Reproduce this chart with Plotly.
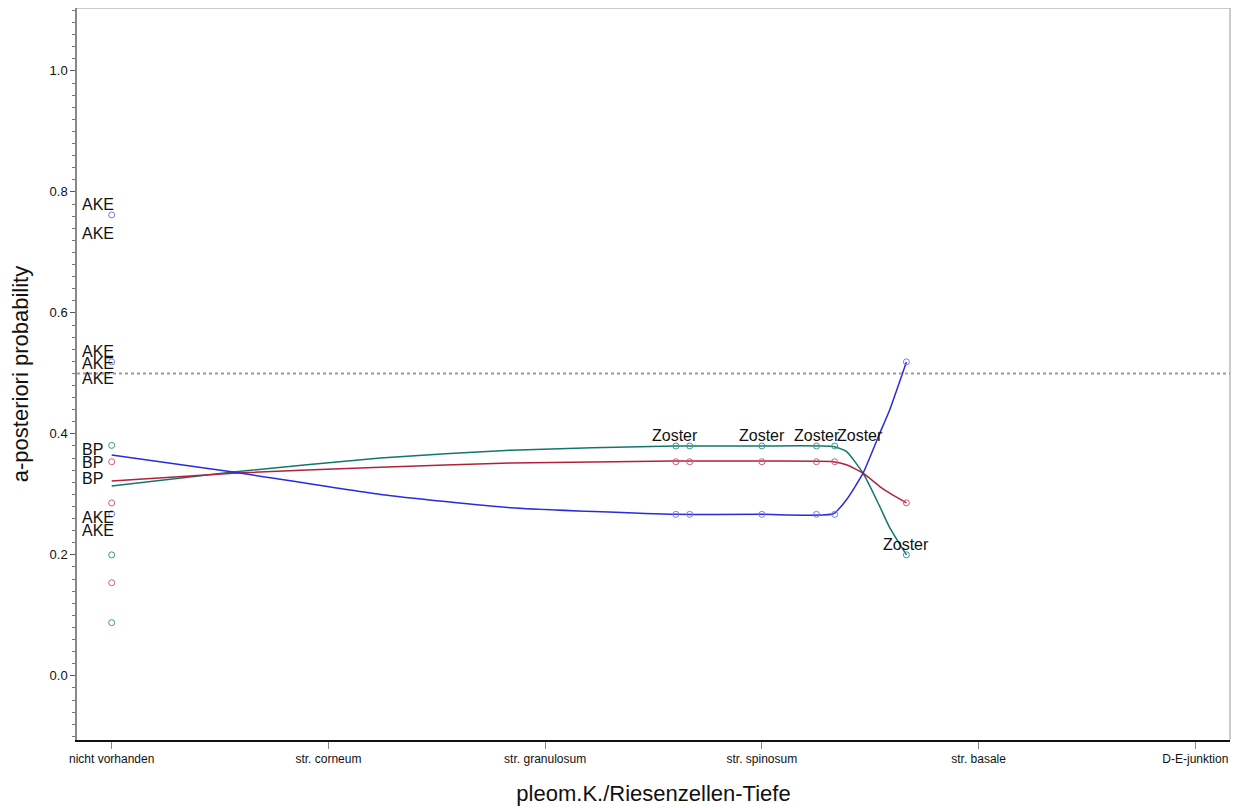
import plotly.graph_objects as go

# Category axis
cat_pos = [0, 1, 2, 3, 4, 5]
cat_labels = ["nicht vorhanden", "str. corneum", "str. granulosum", "str. spinosum", "str. basale", "D-E-junktion"]

# Observed points (a-posteriori probabilities)
pts_x = [0, 0, 0, 2.603, 2.667, 3.0, 3.252, 3.336, 3.667]
blue_pts = [0.762, 0.519, 0.268, 0.267, 0.267, 0.267, 0.267, 0.267, 0.519]
teal_pts = [0.088, 0.200, 0.381, 0.380, 0.380, 0.380, 0.380, 0.380, 0.200]
red_pts = [0.154, 0.286, 0.354, 0.354, 0.354, 0.354, 0.354, 0.354, 0.286]

# Smoothed curves
curve_x = [0, 0.56, 1.24, 1.84, 2.6, 3.0, 3.33, 3.39, 3.467, 3.544, 3.59, 3.667]
blue_curve = [0.365, 0.337, 0.300, 0.278, 0.267, 0.267, 0.268, 0.291, 0.335, 0.401, 0.44, 0.519]
teal_curve = [0.314, 0.337, 0.360, 0.373, 0.380, 0.380, 0.379, 0.371, 0.335, 0.280, 0.245, 0.200]
red_curve = [0.322, 0.335, 0.345, 0.352, 0.355, 0.355, 0.354, 0.349, 0.335, 0.313, 0.302, 0.286]

# Point labels
left_labels = ["AKE", "AKE", "AKE", "AKE", "AKE", "BP", "BP", "BP", "AKE", "AKE"]
left_labels_y = [0.779, 0.732, 0.536, 0.516, 0.491, 0.375, 0.352, 0.326, 0.261, 0.240]
left_labels_x = -0.145
zoster_labels = ["Zoster", "Zoster", "Zoster", "Zoster", "Zoster"]
zoster_x = [2.60, 3.0, 3.254, 3.454, 3.667]
zoster_y = [0.398, 0.398, 0.398, 0.398, 0.2165]

ref_line = 0.5

colors = {
    "blue": ("#2a2ae0", "#7a7af0"),
    "teal": ("#13766a", "#3a9a88"),
    "red": ("#b3203c", "#d45a70"),
}

fig = go.Figure()

fig.add_hline(y=ref_line, line=dict(color="#9a9a9a", width=2, dash="dot"))

for name, cy, py in [("teal", teal_curve, teal_pts), ("red", red_curve, red_pts), ("blue", blue_curve, blue_pts)]:
    lc, mc = colors[name]
    fig.add_trace(go.Scatter(x=curve_x, y=cy, mode="lines",
                             line=dict(color=lc, width=1.5, shape="spline", smoothing=0.5),
                             showlegend=False, hoverinfo="skip"))
    fig.add_trace(go.Scatter(x=pts_x, y=py, mode="markers",
                             marker=dict(symbol="circle-open", size=6, color=mc, line=dict(width=1)),
                             showlegend=False))

for t, y in zip(left_labels, left_labels_y):
    fig.add_annotation(x=left_labels_x, y=y, text=t, showarrow=False, xanchor="left", yanchor="middle",
                       font=dict(family="Arial, Liberation Sans", size=16, color="#111"))
for t, x, y in zip(zoster_labels, zoster_x, zoster_y):
    fig.add_annotation(x=x, y=y, text=t, showarrow=False, xanchor="center", yanchor="middle",
                       font=dict(family="Arial, Liberation Sans", size=16, color="#111"))

# Page body has an 8px margin; size the figure so the plot area lands where the reference has it
fig.update_layout(
    width=1231, height=800,
    margin=dict(l=69, r=9, t=0, b=68, autoexpand=False),
    plot_bgcolor="white", paper_bgcolor="white",
    font=dict(family="Arial, Liberation Sans", color="#111"),
    xaxis=dict(range=[-0.16, 5.16], tickvals=cat_pos, ticktext=cat_labels, automargin=False,
               ticks="outside", ticklen=7, tickcolor="#888", showgrid=False, zeroline=False,
               showline=True, linecolor="#111", linewidth=1.5, mirror=False,
               tickfont=dict(size=12),
               title=dict(text="pleom.K./Riesenzellen-Tiefe", font=dict(size=22), standoff=20)),
    yaxis=dict(range=[-0.106, 1.104], tickvals=[0.0, 0.2, 0.4, 0.6, 0.8, 1.0], automargin=False,
               ticktext=["0.0", "0.2", "0.4", "0.6", "0.8", "1.0"],
               ticks="outside", ticklen=5, tickcolor="#555", showgrid=False, zeroline=False,
               showline=True, linecolor="#888", linewidth=1.5,
               tickfont=dict(size=13),
               minor=dict(dtick=0.02, ticks="outside", ticklen=3, tickcolor="#777", showgrid=False),
               title=dict(text="a-posteriori probability", font=dict(size=22), standoff=16)),
)

# Frame on top and right
fig.add_shape(type="line", xref="paper", yref="paper", x0=0, x1=1, y0=1, y1=1, line=dict(color="#999", width=1))
fig.add_shape(type="line", xref="paper", yref="paper", x0=1, x1=1, y0=0, y1=1, line=dict(color="#999", width=1))

fig.write_html("out.html")
